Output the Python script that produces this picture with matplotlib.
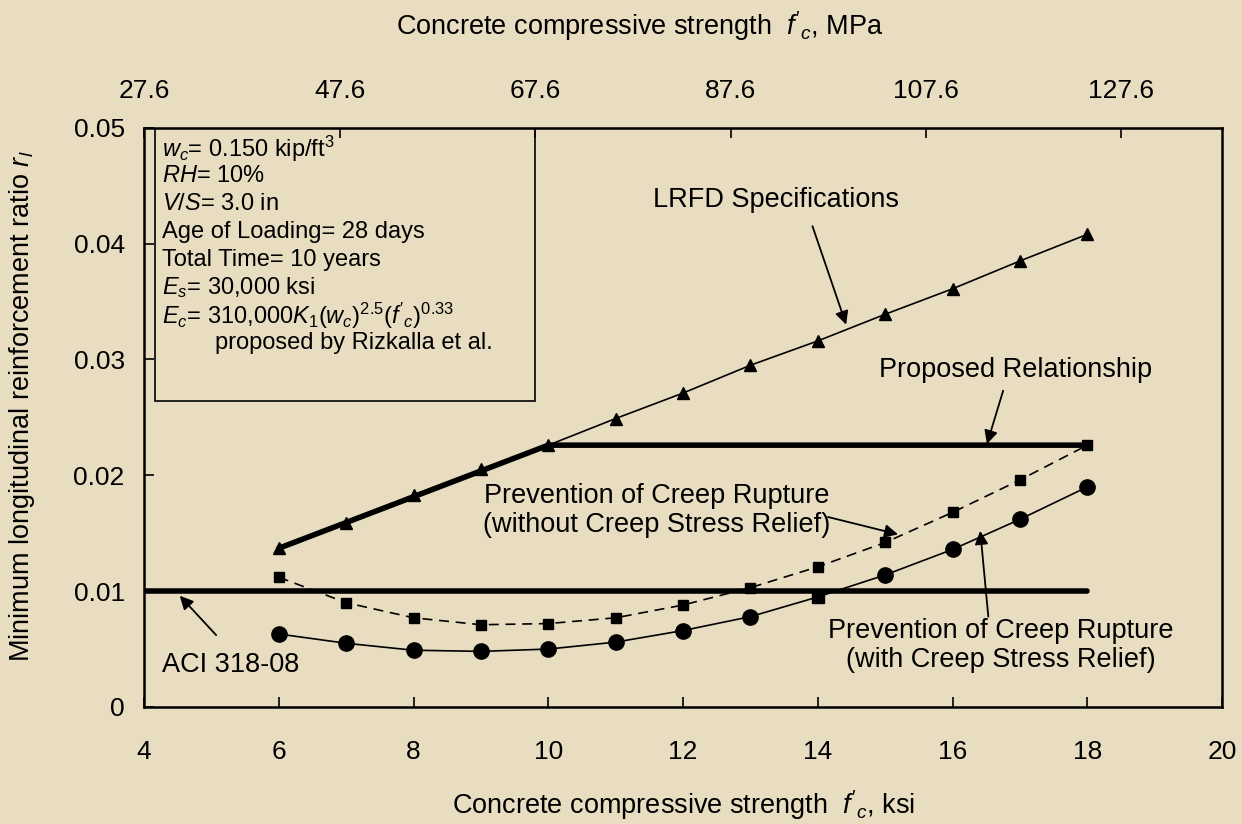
import matplotlib
matplotlib.use("Agg")
import matplotlib.pyplot as plt
from matplotlib.patches import Rectangle

plt.rcParams['font.family'] = ['Liberation Sans', 'DejaVu Sans']
plt.rcParams['mathtext.fontset'] = 'custom'
plt.rcParams['mathtext.rm'] = 'Liberation Sans'
plt.rcParams['mathtext.it'] = 'Liberation Sans:italic'
plt.rcParams['mathtext.bf'] = 'Liberation Sans:bold'

# ---------------- data ----------------
fc_ksi = [6, 7, 8, 9, 10, 11, 12, 13, 14, 15, 16, 17, 18]
lrfd = [0.0137, 0.0159, 0.0183, 0.0205, 0.0226, 0.0249, 0.0271,
        0.0295, 0.0316, 0.0339, 0.0361, 0.0385, 0.0408]
no_relief = [0.0112, 0.0090, 0.0077, 0.0071, 0.0072, 0.0077, 0.0088,
             0.0103, 0.0121, 0.0142, 0.0168, 0.0196, 0.0226]
with_relief = [0.0063, 0.0055, 0.0049, 0.0048, 0.0050, 0.0056, 0.0066,
               0.0078, 0.0095, 0.0114, 0.0136, 0.0162, 0.0190]
proposed_x = [6, 10, 18]
proposed_y = [0.0137, 0.0226, 0.0226]
aci_x = [4, 18]
aci_y = [0.010, 0.010]

x_ticks = [4, 6, 8, 10, 12, 14, 16, 18, 20]
y_ticks = [0, 0.01, 0.02, 0.03, 0.04, 0.05]
y_ticklabels = ['0', '0.01', '0.02', '0.03', '0.04', '0.05']
mpa_ticks = [27.6, 47.6, 67.6, 87.6, 107.6, 127.6]
mpa_ticklabels = ['27.6', '47.6', '67.6', '87.6', '107.6', '127.6']
KSI_TO_MPA = 6.895

box_lines = [
    r"$w_c$= 0.150 kip/ft$^3$",
    r"$RH$= 10%",
    r"$V/S$= 3.0 in",
    "Age of Loading= 28 days",
    "Total Time= 10 years",
    r"$E_s$= 30,000 ksi",
    r"$E_c$= 310,000$K_1$($w_c$)$^{2.5}$($f'_c$)$^{0.33}$",
    "        proposed by Rizkalla et al.",
]

BG = '#E8DDC0'
FS = 19.5

fig = plt.figure(figsize=(12.42, 8.24), dpi=100, facecolor=BG)
ax = fig.add_axes([0.116, 0.142, 0.868, 0.703], facecolor=BG)

# thick lines
ax.plot(proposed_x, proposed_y, color='k', lw=4.0, solid_capstyle='round', zorder=2)
ax.plot(aci_x, aci_y, color='k', lw=4.0, solid_capstyle='round', zorder=2)

# series
ax.plot(fc_ksi, lrfd, color='k', lw=1.2, marker='^', markersize=8, zorder=3)
ax.plot(fc_ksi, no_relief, color='k', lw=1.2, ls=(0, (6, 4)), marker='s',
        markersize=7.5, zorder=3)
circ_idx = [i for i in range(len(fc_ksi)) if fc_ksi[i] != 14]
sq_idx = [i for i in range(len(fc_ksi)) if fc_ksi[i] == 14]
ax.plot(fc_ksi, with_relief, color='k', lw=1.2, marker='o', markersize=11,
        markevery=circ_idx, zorder=3)
ax.plot([fc_ksi[i] for i in sq_idx], [with_relief[i] for i in sq_idx],
        ls='none', color='k', marker='s', markersize=8, zorder=3)

ax.set_xlim(4, 20)
ax.set_ylim(0, 0.05)
ax.set_xticks(x_ticks)
ax.set_yticks(y_ticks)
ax.set_yticklabels(y_ticklabels)
ax.tick_params(axis='both', direction='in', length=7, width=1.2, labelsize=19,
               top=False, right=False)
ax.tick_params(axis='x', pad=24)
ax.tick_params(axis='y', pad=14)
for s in ax.spines.values():
    s.set_linewidth(1.8)

ax.set_xlabel(r"Concrete compressive strength  $f'_c$, ksi", fontsize=FS)
ax.xaxis.set_label_coords(0.5, -0.169)
ax.xaxis.label.set_va('center')
ax.set_ylabel(r"Minimum longitudinal reinforcement ratio $r_l$", fontsize=FS)
ax.yaxis.set_label_coords(-0.113, 0.52)
ax.yaxis.label.set_va('center')

sec = ax.secondary_xaxis('top', functions=(lambda v: v * KSI_TO_MPA,
                                           lambda v: v / KSI_TO_MPA))
sec.set_xticks(mpa_ticks)
sec.set_xticklabels(mpa_ticklabels)
sec.tick_params(direction='in', length=7, width=1.2, labelsize=19, pad=18)
sec.set_xlabel(r"Concrete compressive strength  $f'_c$, MPa", fontsize=FS)
sec.xaxis.set_label_coords(0.46, 1.176, transform=ax.transAxes)
sec.xaxis.label.set_va('center')

# info box
ax.add_patch(Rectangle((4.16, 0.0264), 5.64, 0.0236, fill=False, ec='k', lw=1.2, zorder=4))
y0 = 0.0482
dy = 0.0024
for i, t in enumerate(box_lines):
    ax.text(4.27, y0 - i * dy, t, fontsize=17, va='center', ha='left', zorder=5)

arrow = dict(arrowstyle='-|>', color='k', lw=1.3, mutation_scale=20, shrinkA=0, shrinkB=0)
ax.text(13.38, 0.0438, "LRFD Specifications", fontsize=FS, ha='center', va='center')
ax.annotate("", xy=(14.42, 0.0330), xytext=(13.92, 0.0415), arrowprops=arrow)

ax.text(16.93, 0.0291, "Proposed Relationship", fontsize=FS, ha='center', va='center')
ax.annotate("", xy=(16.51, 0.0227), xytext=(16.75, 0.0273), arrowprops=arrow)

ax.text(11.61, 0.0170, "Prevention of Creep Rupture\n(without Creep Stress Relief)",
        fontsize=FS, ha='center', va='center', linespacing=1.15)
ax.annotate("", xy=(15.19, 0.0149), xytext=(14.15, 0.0164), arrowprops=arrow)

ax.text(16.71, 0.0053, "Prevention of Creep Rupture\n(with Creep Stress Relief)",
        fontsize=FS, ha='center', va='center', linespacing=1.15)
ax.annotate("", xy=(16.41, 0.0152), xytext=(16.53, 0.0078), arrowprops=arrow)

ax.text(5.28, 0.0036, "ACI 318-08", fontsize=FS, ha='center', va='center')
ax.annotate("", xy=(4.53, 0.0096), xytext=(5.07, 0.0062), arrowprops=arrow)

fig.savefig("out.png", dpi=100, facecolor=BG)
